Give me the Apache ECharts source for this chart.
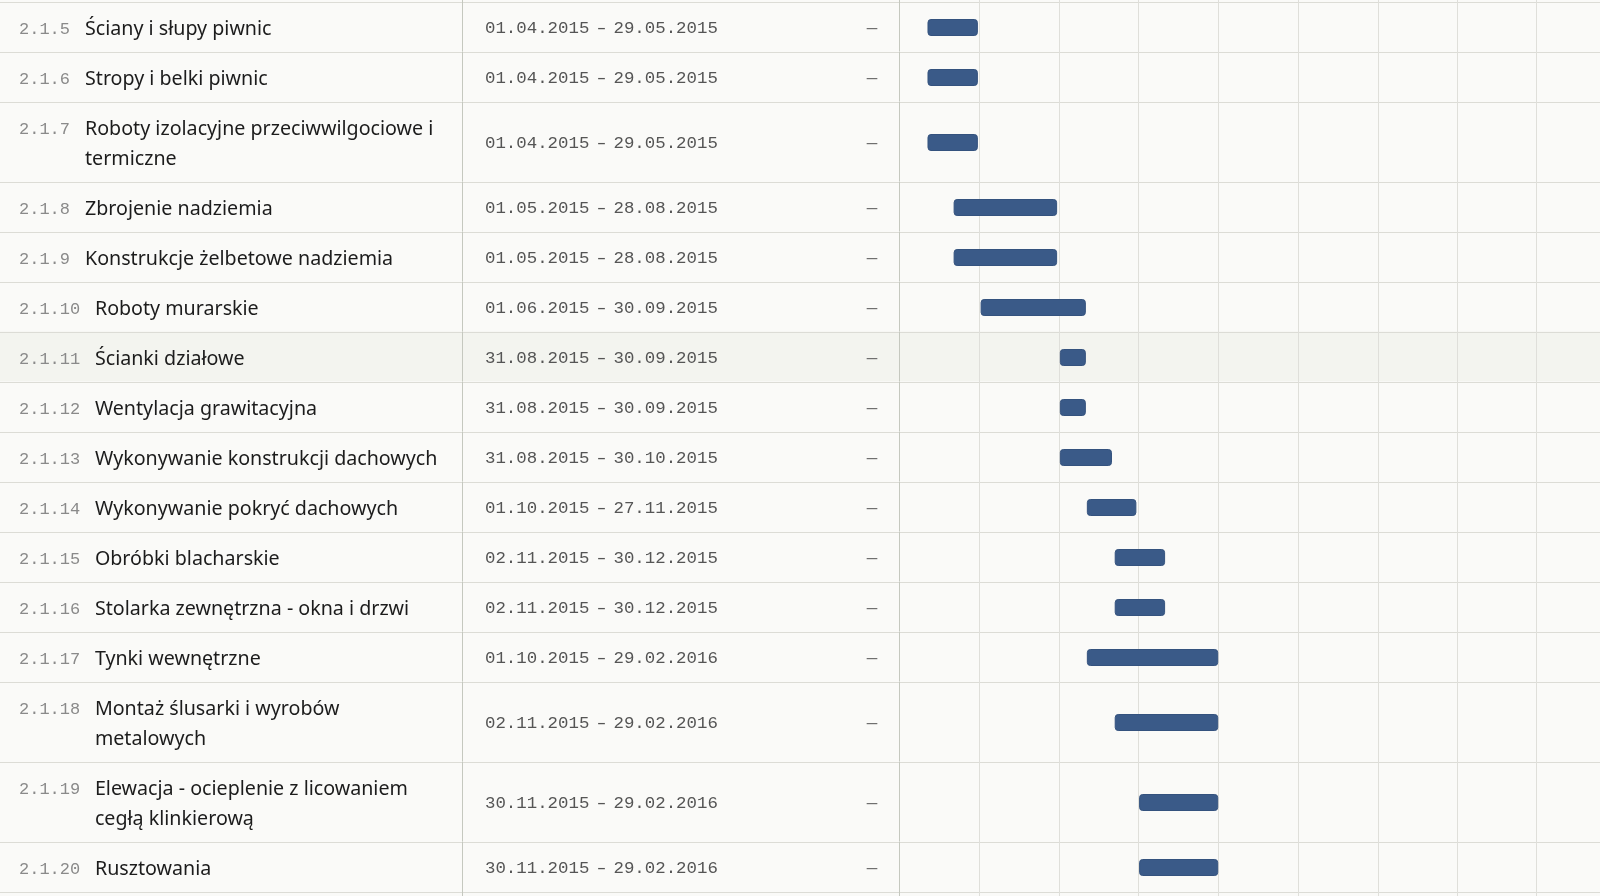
<!DOCTYPE html>
<html>
<head>
<meta charset="utf-8">
<script src="https://cdn.jsdelivr.net/npm/echarts@6/dist/echarts.min.js"></script>
<style>
html,body{margin:0;padding:0;background:#fafaf8;}
#chart{width:1600px;height:896px;}
</style>
</head>
<body>
<div id="chart"></div>
<script>
// ---------------- data ----------------
const taskIds = ['2.1.5','2.1.6','2.1.7','2.1.8','2.1.9','2.1.10','2.1.11','2.1.12','2.1.13','2.1.14','2.1.15','2.1.16','2.1.17','2.1.18','2.1.19','2.1.20'];
const taskNames = [
  'Ściany i słupy piwnic',
  'Stropy i belki piwnic',
  'Roboty izolacyjne przeciwwilgociowe i\ntermiczne',
  'Zbrojenie nadziemia',
  'Konstrukcje żelbetowe nadziemia',
  'Roboty murarskie',
  'Ścianki działowe',
  'Wentylacja grawitacyjna',
  'Wykonywanie konstrukcji dachowych',
  'Wykonywanie pokryć dachowych',
  'Obróbki blacharskie',
  'Stolarka zewnętrzna - okna i drzwi',
  'Tynki wewnętrzne',
  'Montaż ślusarki i wyrobów\nmetalowych',
  'Elewacja - ocieplenie z licowaniem\ncegłą klinkierową',
  'Rusztowania'
];
const startDates = ['2015-04-01','2015-04-01','2015-04-01','2015-05-01','2015-05-01','2015-06-01','2015-08-31','2015-08-31','2015-08-31','2015-10-01','2015-11-02','2015-11-02','2015-10-01','2015-11-02','2015-11-30','2015-11-30'];
const endDates   = ['2015-05-29','2015-05-29','2015-05-29','2015-08-28','2015-08-28','2015-09-30','2015-09-30','2015-09-30','2015-10-30','2015-11-27','2015-12-30','2015-12-30','2016-02-29','2016-02-29','2016-02-29','2016-02-29'];
const extraColumn = ['—','—','—','—','—','—','—','—','—','—','—','—','—','—','—','—'];
const highlightedTask = '2.1.11';
const quarterTicks = ['2015-06-01','2015-09-01','2015-12-01','2016-03-01','2016-06-01','2016-09-01','2016-12-01','2017-03-01'];
const timelineStart = '2015-03-01';
const timelineEnd = '2017-05-14';

// ---------------- layout / style ----------------
const DAY = 86400000;
const ROW_PAD = 10, LINE_H = 30, SCROLL_TOP = 1.5;
const TABLE_W = 899, DIV1 = 462;
const TEXT_DY = 2.5, BAR_DY = 1;
const C = {
  bg:'#fafaf8', hl:'#f3f4ef', rowLine:'#dcdcd6', divider:'#c5c8bf', grid:'#dfdfda',
  id:'#8a8a8a', name:'#1c1c1c', date:'#555555', dash:'#6f6f6f', bar:'#3a5a88', barEdge:'#34527e'
};
const SANS = '"Noto Sans", sans-serif';
const MONO = '"Liberation Mono", monospace';

// calibrate sans size to match the original text width
const cv = document.createElement('canvas').getContext('2d');
cv.font = '100px ' + SANS;
const nameSize = Math.max(15, Math.min(21, 342.7 / cv.measureText('Wykonywanie konstrukcji dachowych').width * 100));

function toMs(d){ const p = d.split('-').map(Number); return Date.UTC(p[0], p[1]-1, p[2]); }
function fmt(d){ const p = d.split('-'); return p[2] + '.' + p[1] + '.' + p[0]; }

const lineCounts = taskNames.map(n => n.split('\n').length);
const rowTop = [], rowBottom = [];
let acc = 0;
lineCounts.forEach(c => { rowTop.push(acc); acc += ROW_PAD*2 + c*LINE_H; rowBottom.push(acc); });

const chart = echarts.init(document.getElementById('chart'), null, {renderer:'canvas'});

function hLine(y, W){
  const yy = Math.round(y) + 0.5;
  return {type:'line', shape:{x1:0,y1:yy,x2:W,y2:yy}, style:{stroke:C.rowLine,lineWidth:1}};
}

function tableItem(params, api){
  const i = api.value(0);
  const last = i === taskIds.length - 1;
  const top = api.coord([0, rowTop[i]])[1];
  const bottom = api.coord([0, rowBottom[i]])[1];
  const W = api.getWidth(), H = api.getHeight();
  const mid = (top + bottom) / 2 + TEXT_DY;
  const firstY = mid - (lineCounts[i]-1) * LINE_H / 2;
  const ch = [];
  if (i === 0) ch.push({type:'rect', shape:{x:0,y:0,width:W,height:top}, style:{fill:C.bg}});
  ch.push({type:'rect', shape:{x:0,y:top,width:W,height:bottom-top}, style:{fill: taskIds[i]===highlightedTask ? C.hl : C.bg}});
  if (last) {
    ch.push({type:'rect', shape:{x:0,y:bottom,width:W,height:H-bottom}, style:{fill:C.bg}});
    ch.push(hLine(bottom, W));
  }
  ch.push(hLine(top, W));
  const segTop = i === 0 ? 0 : top;
  const segBot = last ? H : bottom;
  [DIV1, TABLE_W].forEach(x => ch.push({type:'line', shape:{x1:x+0.5,y1:segTop,x2:x+0.5,y2:segBot}, style:{stroke:C.divider,lineWidth:1}}));
  const idText = taskIds[i];
  ch.push({type:'text', style:{text:idText, x:19, y:firstY, font:'17px ' + MONO, fill:C.id, align:'left', verticalAlign:'middle'}});
  const nameX = 19 + idText.length * 9.9 + 16.5;
  ch.push({type:'text', style:{text:taskNames[i], x:nameX, y:mid, fontFamily:SANS, fontSize:nameSize, lineHeight:LINE_H, fill:C.name, align:'left', verticalAlign:'middle'}});
  ch.push({type:'text', style:{text:fmt(startDates[i]), x:485, y:mid - 0.5, font:'17.4px ' + MONO, fill:C.date, align:'left', verticalAlign:'middle'}});
  ch.push({type:'text', style:{text:'–', x:601.5, y:mid - 0.5, font:'16px ' + SANS, fill:C.date, align:'center', verticalAlign:'middle'}});
  ch.push({type:'text', style:{text:fmt(endDates[i]), x:613.5, y:mid - 0.5, font:'17.4px ' + MONO, fill:C.date, align:'left', verticalAlign:'middle'}});
  ch.push({type:'text', style:{text:extraColumn[i], x:872, y:mid - 0.5, font:'17.5px ' + MONO, fill:C.dash, align:'center', verticalAlign:'middle'}});
  return {type:'group', children:ch};
}

function gridItem(params, api){
  const x = Math.round(api.coord([api.value(0), 0])[0]) + 0.5;
  const H = api.getHeight();
  return {type:'line', shape:{x1:x,y1:0,x2:x,y2:H}, style:{stroke:C.grid,lineWidth:1}};
}

function barItem(params, api){
  const i = api.value(2);
  const midV = (rowTop[i] + rowBottom[i]) / 2;
  const p1 = api.coord([api.value(0), midV]);
  const p2 = api.coord([api.value(1), midV]);
  const h = 16;
  return {type:'rect', shape:{x:p1[0]+2, y:p1[1]+BAR_DY-h/2, width:p2[0]-p1[0]-2, height:h, r:3},
          style:{fill:C.bar, stroke:C.barEdge, lineWidth:1}};
}

const yRange = {type:'value', inverse:true, min:-SCROLL_TOP, max:896-SCROLL_TOP, show:false};

chart.setOption({
  animation:false,
  backgroundColor:C.bg,
  grid:[
    {left:0, top:0, width:TABLE_W, bottom:0},
    {left:TABLE_W, top:0, right:0, bottom:0}
  ],
  xAxis:[
    {type:'value', gridIndex:0, min:0, max:TABLE_W, show:false},
    {type:'time', gridIndex:1, min:toMs(timelineStart), max:toMs(timelineEnd), show:false}
  ],
  yAxis:[
    Object.assign({gridIndex:0}, yRange),
    Object.assign({gridIndex:1}, yRange)
  ],
  series:[
    {type:'custom', name:'table', xAxisIndex:0, yAxisIndex:0, z:1, silent:true, clip:false,
     renderItem:tableItem, data:taskIds.map((id,i)=>[i])},
    {type:'custom', name:'quarters', xAxisIndex:1, yAxisIndex:1, z:2, silent:true, clip:false,
     renderItem:gridItem, data:quarterTicks.map(d=>[toMs(d)])},
    {type:'custom', name:'tasks', xAxisIndex:1, yAxisIndex:1, z:3, clip:false,
     renderItem:barItem, encode:{x:[0,1], y:2},
     data:taskIds.map((id,i)=>[toMs(startDates[i]), toMs(endDates[i]) + DAY, i])}
  ]
});
</script>
</body>
</html>
